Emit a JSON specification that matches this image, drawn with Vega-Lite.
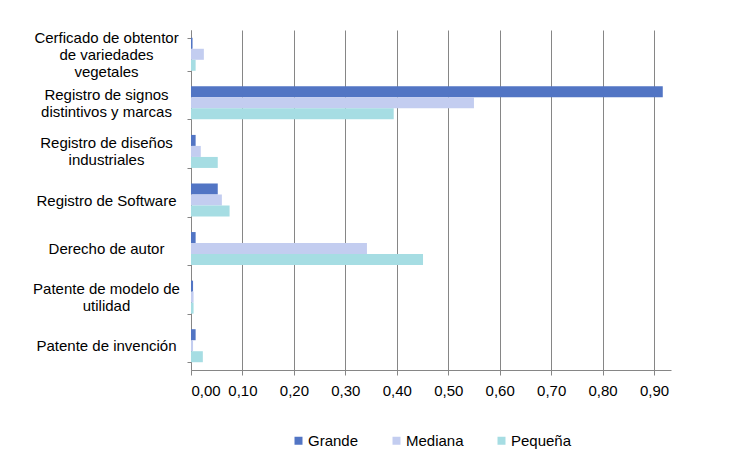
{
  "$schema": "https://vega.github.io/schema/vega-lite/v6.json",
  "width": 480,
  "height": 340,
  "autosize": {"type": "none"},
  "padding": {"left": 191, "top": 30, "right": 59, "bottom": 104},
  "background": "white",
  "config": {
    "locale": {"number": {"decimal": ",", "thousands": ".", "grouping": [3], "currency": ["", " €"]}},
    "font": "Liberation Sans",
    "view": {"stroke": null},
    "legend": {"layout": {"bottom": {"anchor": "middle"}}}
  },
  "data": {
    "values": [
      {"categoria": "Cerficado de obtentor|de variedades|vegetales", "tamano": "Grande", "valor": 0.003},
      {"categoria": "Cerficado de obtentor|de variedades|vegetales", "tamano": "Mediana", "valor": 0.025},
      {"categoria": "Cerficado de obtentor|de variedades|vegetales", "tamano": "Pequeña", "valor": 0.009},
      {"categoria": "Registro de signos|distintivos y marcas", "tamano": "Grande", "valor": 0.917},
      {"categoria": "Registro de signos|distintivos y marcas", "tamano": "Mediana", "valor": 0.55},
      {"categoria": "Registro de signos|distintivos y marcas", "tamano": "Pequeña", "valor": 0.394},
      {"categoria": "Registro de diseños|industriales", "tamano": "Grande", "valor": 0.009},
      {"categoria": "Registro de diseños|industriales", "tamano": "Mediana", "valor": 0.019},
      {"categoria": "Registro de diseños|industriales", "tamano": "Pequeña", "valor": 0.052},
      {"categoria": "Registro de Software", "tamano": "Grande", "valor": 0.052},
      {"categoria": "Registro de Software", "tamano": "Mediana", "valor": 0.06},
      {"categoria": "Registro de Software", "tamano": "Pequeña", "valor": 0.075},
      {"categoria": "Derecho de autor", "tamano": "Grande", "valor": 0.009},
      {"categoria": "Derecho de autor", "tamano": "Mediana", "valor": 0.342},
      {"categoria": "Derecho de autor", "tamano": "Pequeña", "valor": 0.451},
      {"categoria": "Patente de modelo de|utilidad", "tamano": "Grande", "valor": 0.004},
      {"categoria": "Patente de modelo de|utilidad", "tamano": "Mediana", "valor": 0.005},
      {"categoria": "Patente de modelo de|utilidad", "tamano": "Pequeña", "valor": 0.005},
      {"categoria": "Patente de invención", "tamano": "Grande", "valor": 0.009},
      {"categoria": "Patente de invención", "tamano": "Mediana", "valor": 0.004},
      {"categoria": "Patente de invención", "tamano": "Pequeña", "valor": 0.023}
    ]
  },
  "mark": {"type": "bar"},
  "encoding": {
    "y": {
      "field": "categoria",
      "type": "nominal",
      "sort": null,
      "scale": {"paddingInner": 0.32, "paddingOuter": 0.16},
      "axis": {
        "title": null,
        "labelExpr": "datum.value ? split(datum.value, '|') : ''",
        "labelAlign": "center",
        "labelBaseline": "middle",
        "labelPadding": 81,
        "labelFontSize": 15,
        "labelColor": "#000000",
        "labelLineHeight": 17,
        "labelLimit": 0,
        "labelBound": false,
        "labelOffset": {
          "condition": [
            {"test": "datum.value && indexof(datum.value, 'Cerficado') >= 0", "value": -17},
            {"test": "datum.value && indexof(datum.value, '|') >= 0", "value": -8.5}
          ],
          "value": 0
        },
        "tickBand": "extent",
        "tickSize": 4,
        "tickColor": "#868686",
        "domainColor": "#868686",
        "grid": false
      }
    },
    "x": {
      "field": "valor",
      "type": "quantitative",
      "scale": {"domain": [0, 0.933], "nice": false},
      "axis": {
        "title": null,
        "values": [0, 0.1, 0.2, 0.3, 0.4, 0.5, 0.6, 0.7, 0.8, 0.9],
        "format": ".2f",
        "grid": true,
        "gridColor": "#868686",
        "domainColor": "#868686",
        "tickColor": "#868686",
        "tickSize": 5,
        "labelFontSize": 15,
        "labelColor": "#000000",
        "labelPadding": 8
      }
    },
    "yOffset": {"field": "tamano", "type": "nominal", "sort": ["Grande", "Mediana", "Pequeña"]},
    "color": {
      "field": "tamano",
      "type": "nominal",
      "sort": ["Grande", "Mediana", "Pequeña"],
      "scale": {
        "domain": ["Grande", "Mediana", "Pequeña"],
        "range": ["#5275c4", "#c3cdf0", "#a6dde3"]
      },
      "legend": {
        "title": null,
        "orient": "bottom",
        "direction": "horizontal",
        "symbolType": "square",
        "symbolSize": 64,
        "symbolStrokeWidth": 0,
        "labelFontSize": 15,
        "labelColor": "#000000",
        "labelOffset": 2,
        "columnPadding": 30,
        "offset": 35
      }
    }
  }
}
